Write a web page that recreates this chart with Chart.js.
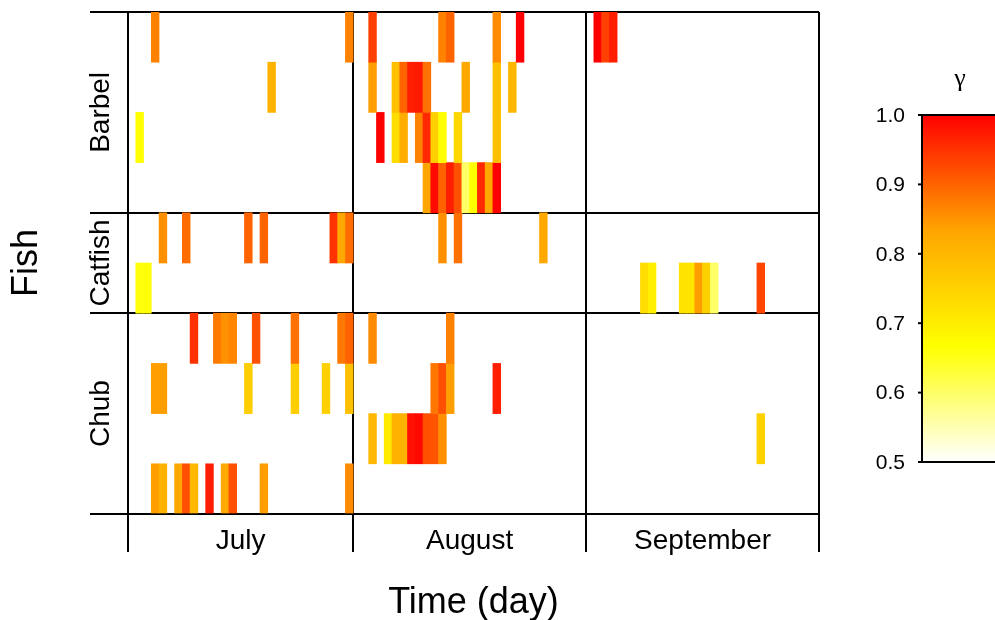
<!DOCTYPE html>
<html>
<head>
<meta charset="utf-8">
<script src="https://cdn.jsdelivr.net/npm/chart.js@4.4.0/dist/chart.umd.min.js"></script>
<style>
html, body { margin: 0; padding: 0; background: #fff; }
#wrap { width: 995px; height: 620px; position: relative; }
</style>
</head>
<body>
<div id="wrap"><canvas id="fishChart"></canvas></div>
<script>
var months = ['July', 'August', 'September']
var monthFirstDay = [0, 29, 59]
var dayCount = 89

var fishNames = ['Barbel', 'Catfish', 'Chub']
var fishRowCount = [4, 2, 4]

// each entry: [day index, gamma]
var barbel1 = [[3, 0.87], [28, 0.87], [31, 0.935], [40, 0.87], [41, 0.90], [47, 0.86], [50, 1.0], [60, 1.0], [61, 0.935], [62, 0.97]]
var barbel2 = [[18, 0.81], [31, 0.84], [34, 0.784], [35, 0.90], [36, 0.97], [37, 0.975], [38, 0.886], [43, 0.828], [47, 0.784], [49, 0.80]]
var barbel3 = [[1, 0.667], [32, 1.0], [34, 0.73], [35, 0.818], [37, 0.87], [38, 0.96], [39, 0.754], [40, 0.667], [42, 0.74], [47, 0.784]]
var barbel4 = [[38, 0.833], [39, 0.99], [40, 0.90], [41, 0.97], [42, 0.92], [43, 0.60], [44, 0.667], [45, 0.96], [46, 0.828], [47, 1.0]]
var catfish1 = [[4, 0.854], [7, 0.89], [15, 0.90], [17, 0.90], [26, 0.95], [27, 0.828], [28, 0.89], [40, 0.854], [42, 0.886], [53, 0.828]]
var catfish2 = [[1, 0.66], [2, 0.66], [66, 0.73], [67, 0.695], [71, 0.717], [72, 0.717], [73, 0.84], [74, 0.754], [75, 0.60], [81, 0.93]]
var chub1 = [[8, 0.95], [11, 0.878], [12, 0.854], [13, 0.866], [16, 0.92], [21, 0.886], [27, 0.878], [28, 0.90], [31, 0.86], [41, 0.87]]
var chub2 = [[3, 0.84], [4, 0.84], [15, 0.76], [21, 0.76], [25, 0.754], [28, 0.784], [39, 0.88], [40, 0.92], [41, 0.84], [47, 0.97]]
var chub3 = [[31, 0.80], [33, 0.706], [34, 0.81], [35, 0.81], [36, 0.984], [37, 0.992], [38, 0.92], [39, 0.915], [40, 0.854], [81, 0.75]]
var chub4 = [[3, 0.84], [4, 0.81], [6, 0.828], [7, 0.92], [8, 0.80], [10, 0.97], [12, 0.824], [13, 0.92], [17, 0.84], [28, 0.86]]

var rows = [barbel1, barbel2, barbel3, barbel4, catfish1, catfish2, chub1, chub2, chub3, chub4]

var gammaTicks = [0.5, 0.6, 0.7, 0.8, 0.9, 1.0]
var gammaStops = [0.5, 2 / 3, 5 / 6, 1.0]
var gammaColours = [[255, 255, 255], [255, 255, 0], [255, 165, 0], [255, 0, 0]]

var sansFont = '"Liberation Sans", Arial, sans-serif'

function gammaColour(g) {
    var i = 0
    while (i < gammaStops.length - 2 && g > gammaStops[i + 1]) i++
    var t = (g - gammaStops[i]) / (gammaStops[i + 1] - gammaStops[i])
    t = Math.max(0, Math.min(1, t))
    var a = gammaColours[i], b = gammaColours[i + 1]
    var c = [0, 1, 2].map(function(k) { return Math.round(a[k] + (b[k] - a[k]) * t) })
    return 'rgb(' + c.join(',') + ')'
}

var totalRows = fishRowCount.reduce(function(s, n) { return s + n }, 0)

var datasets = rows.map(function(row, i) {
    var top = totalRows - i
    return {
        data: row.map(function(p) { return { x: p[0], y: [top - 1, top] } }),
        backgroundColor: row.map(function(p) { return gammaColour(p[1]) }),
        borderWidth: 0,
        barPercentage: 1,
        categoryPercentage: 1
    }
})

// boundaries between months and between fish
var dayEdges = monthFirstDay.map(function(d) { return d - 0.5 }).concat([dayCount - 0.5])
var rowEdges = [0]
fishRowCount.slice().reverse().forEach(function(n) { rowEdges.push(rowEdges[rowEdges.length - 1] + n) })

var labelsPlugin = {
    id: 'labels',
    afterDraw: function(chart) {
        var ctx = chart.ctx
        var xs = chart.scales.x, ys = chart.scales.y
        var area = chart.chartArea
        ctx.save()
        ctx.fillStyle = '#000'

        // month names
        ctx.font = '28px ' + sansFont
        ctx.textAlign = 'center'
        ctx.textBaseline = 'middle'
        months.forEach(function(m, i) {
            var mid = (dayEdges[i] + dayEdges[i + 1]) / 2
            ctx.fillText(m, xs.getPixelForValue(mid), area.bottom + 27)
        })

        // fish names
        var topRow = totalRows
        fishNames.forEach(function(f, i) {
            var mid = topRow - fishRowCount[i] / 2
            topRow -= fishRowCount[i]
            ctx.save()
            ctx.translate(area.left - 27, ys.getPixelForValue(mid))
            ctx.rotate(-Math.PI / 2)
            ctx.fillText(f, 0, 0)
            ctx.restore()
        })

        // axis titles
        ctx.font = '36px ' + sansFont
        ctx.fillText('Time (day)', (area.left + area.right) / 2, 603)
        ctx.save()
        ctx.translate(27, (area.top + area.bottom) / 2)
        ctx.rotate(-Math.PI / 2)
        ctx.fillText('Fish', 0, 0)
        ctx.restore()

        // colour bar
        var cbLeft = 922, cbTop = 115, cbBottom = 462
        var grad = ctx.createLinearGradient(0, cbBottom, 0, cbTop)
        gammaStops.forEach(function(s, i) {
            grad.addColorStop((s - 0.5) / 0.5, 'rgb(' + gammaColours[i].join(',') + ')')
        })
        ctx.fillStyle = grad
        ctx.fillRect(cbLeft, cbTop, 100, cbBottom - cbTop)
        ctx.strokeStyle = '#000'
        ctx.lineWidth = 2
        ctx.beginPath()
        ctx.moveTo(1000, cbTop)
        ctx.lineTo(cbLeft, cbTop)
        ctx.lineTo(cbLeft, cbBottom)
        ctx.lineTo(1000, cbBottom)
        ctx.stroke()
        ctx.fillStyle = '#000'
        ctx.font = '21px ' + sansFont
        ctx.textAlign = 'right'
        gammaTicks.forEach(function(g) {
            var y = cbBottom - (g - 0.5) / 0.5 * (cbBottom - cbTop)
            ctx.beginPath()
            ctx.moveTo(cbLeft - 4, y)
            ctx.lineTo(cbLeft, y)
            ctx.stroke()
            ctx.fillText(g.toFixed(1), 905, y + 1)
        })
        ctx.textAlign = 'center'
        ctx.font = '26px "Liberation Serif", "DejaVu Serif", serif'
        ctx.fillText('\u03b3', 960, 79)
        ctx.restore()
    }
}

var ctx = document.getElementById('fishChart').getContext('2d')
var fishChart = new Chart(ctx, {
    type: 'bar',
    data: { datasets: datasets },
    options: {
        responsive: true,
        maintainAspectRatio: false,
        animation: false,
        grouped: false,
        layout: { padding: { left: 90, top: 12, right: 176, bottom: 68 } },
        scales: {
            x: {
                type: 'linear',
                offset: false,
                min: -0.5,
                max: dayCount - 0.5,
                z: 1,
                afterBuildTicks: function(scale) {
                    scale.ticks = dayEdges.map(function(v) { return { value: v } })
                },
                afterFit: function(scale) { scale.height = 38 },
                ticks: { display: false },
                grid: { offset: false, color: '#000', lineWidth: 2, tickLength: 38 },
                border: { color: '#000', width: 2 }
            },
            y: {
                type: 'linear',
                min: 0,
                max: totalRows,
                z: 1,
                afterBuildTicks: function(scale) {
                    scale.ticks = rowEdges.map(function(v) { return { value: v } })
                },
                afterFit: function(scale) { scale.width = 38 },
                ticks: { display: false },
                grid: { color: '#000', lineWidth: 2, tickLength: 38 },
                border: { color: '#000', width: 2 }
            }
        },
        plugins: {
            legend: { display: false },
            tooltip: { enabled: false }
        }
    },
    plugins: [labelsPlugin]
})
</script>
</body>
</html>
